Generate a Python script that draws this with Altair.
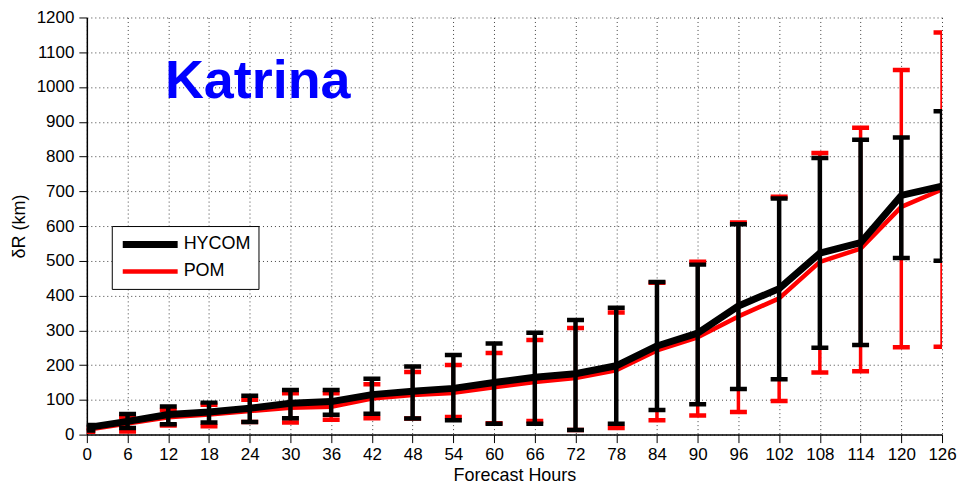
import altair as alt
import pandas as pd

hours = [0, 6, 12, 18, 24, 30, 36, 42, 48, 54, 60, 66, 72, 78, 84, 90, 96, 102, 108, 114, 120, 126]
models = ["HYCOM", "POM"]
model_colors = ["black", "red"]

hycom_mean = [20, 38, 58, 65, 76, 90, 95, 115, 125, 133, 150, 165, 175, 198, 255, 292, 370, 420, 522, 552, 688, 715]
hycom_upper = [28, 59, 81, 92, 112, 128, 128, 161, 196, 229, 262, 293, 330, 365, 439, 489, 605, 679, 796, 848, 855, 930]
hycom_lower = [12, 19, 30, 35, 36, 47, 57, 60, 46, 41, 31, 31, 13, 31, 71, 87, 131, 159, 250, 258, 508, 500]

pom_mean = [14, 32, 50, 58, 68, 77, 80, 104, 114, 120, 136, 151, 163, 185, 242, 280, 340, 392, 497, 535, 655, 705]
pom_upper = [20, 50, 71, 86, 100, 119, 119, 145, 180, 200, 235, 272, 307, 351, 437, 497, 610, 684, 810, 883, 1049, 1157]
pom_lower = [8, 9, 26, 24, 36, 35, 43, 47, 46, 51, 33, 39, 13, 19, 41, 55, 65, 97, 179, 182, 251, 253]

storm = ["Katrina"]
storm_pos_x = [11.5]
storm_pos_y = [968]

series = {
    "HYCOM": (hycom_mean, hycom_lower, hycom_upper),
    "POM": (pom_mean, pom_lower, pom_upper),
}
rows = []
for m, (mean, lo, hi) in series.items():
    for h, a, b, c in zip(hours, mean, lo, hi):
        rows.append({"hour": h, "model": m, "mean": a, "lo": b, "hi": c})
df = pd.DataFrame(rows)

FONT = "Liberation Sans"

xscale = alt.Scale(domain=[0, 126], nice=False, zero=False)
yscale = alt.Scale(domain=[0, 1200], nice=False)
xaxis = alt.Axis(values=hours, title="Forecast Hours", labelFontSize=17, titleFontSize=18,
                 labelPadding=4, titlePadding=4, tickSize=8, labelFlush=False, format="d")
yaxis = alt.Axis(values=list(range(0, 1201, 100)), title="δR (km)", labelFontSize=17, titleFontSize=18,
                 labelPadding=5, titlePadding=8, tickSize=8, format="d")

X = alt.X("hour:Q", scale=xscale, axis=xaxis)
cscale = alt.Scale(domain=models, range=model_colors)
wscale = alt.Scale(domain=models, range=[7, 4.5])

leg = alt.Legend(orient="none", legendX=25, legendY=209, title=None, symbolType="M-3.93,0H3.93",
                 symbolSize=196, labelFontSize=18, labelFont=FONT, labelColor="black",
                 strokeColor="black", fillColor="white", padding=8, rowPadding=3,
                 symbolOffset=20, labelOffset=23)

bar_w = {"HYCOM": 4.5, "POM": 3.5}


def layers(m):
    base = alt.Chart(df).transform_filter(alt.datum.model == m)
    col = alt.Color("model:N", scale=cscale, legend=leg)
    bars = base.mark_rule(strokeWidth=bar_w[m], clip=True).encode(
        x=X, y=alt.Y("lo:Q", scale=yscale, axis=yaxis), y2="hi:Q", color=col)
    cap_hi = base.mark_tick(orient="horizontal", size=17, thickness=4.5, opacity=1, clip=True).encode(
        x=X, y=alt.Y("hi:Q", scale=yscale, axis=yaxis), color=col)
    cap_lo = base.mark_tick(orient="horizontal", size=17, thickness=4.5, opacity=1, clip=True).encode(
        x=X, y=alt.Y("lo:Q", scale=yscale, axis=yaxis), color=col)
    line = base.mark_line(clip=True, strokeJoin="round").encode(
        x=X, y=alt.Y("mean:Q", scale=yscale, axis=yaxis), color=col,
        strokeWidth=alt.StrokeWidth("model:N", scale=wscale, legend=leg))
    return [bars, cap_hi, cap_lo, line]


label_df = pd.DataFrame({"text": storm, "x": storm_pos_x, "y": storm_pos_y})
label = alt.Chart(label_df).mark_text(font=FONT, fontSize=54, fontWeight="bold", color="#0000ff",
                                      align="left", baseline="alphabetic").encode(
    x=alt.X("x:Q", scale=xscale, axis=xaxis), y=alt.Y("y:Q", scale=yscale, axis=yaxis), text="text:N")

chart = alt.layer(*layers("POM"), *layers("HYCOM"), label).properties(
    width=857, height=418, padding={"left": 2, "top": 0, "right": 0, "bottom": 0}
).configure_view(stroke=None).configure_axis(
    labelFont=FONT, titleFont=FONT, labelColor="black", titleColor="black", titleFontWeight="normal",
    domainColor="black", domainWidth=1.5, tickColor="black", tickWidth=1,
    grid=True, gridColor="black", gridDash=[1, 3], gridOpacity=0.75, gridWidth=1
)

chart.save("out.html", embed_options={"renderer": "svg", "actions": False})
